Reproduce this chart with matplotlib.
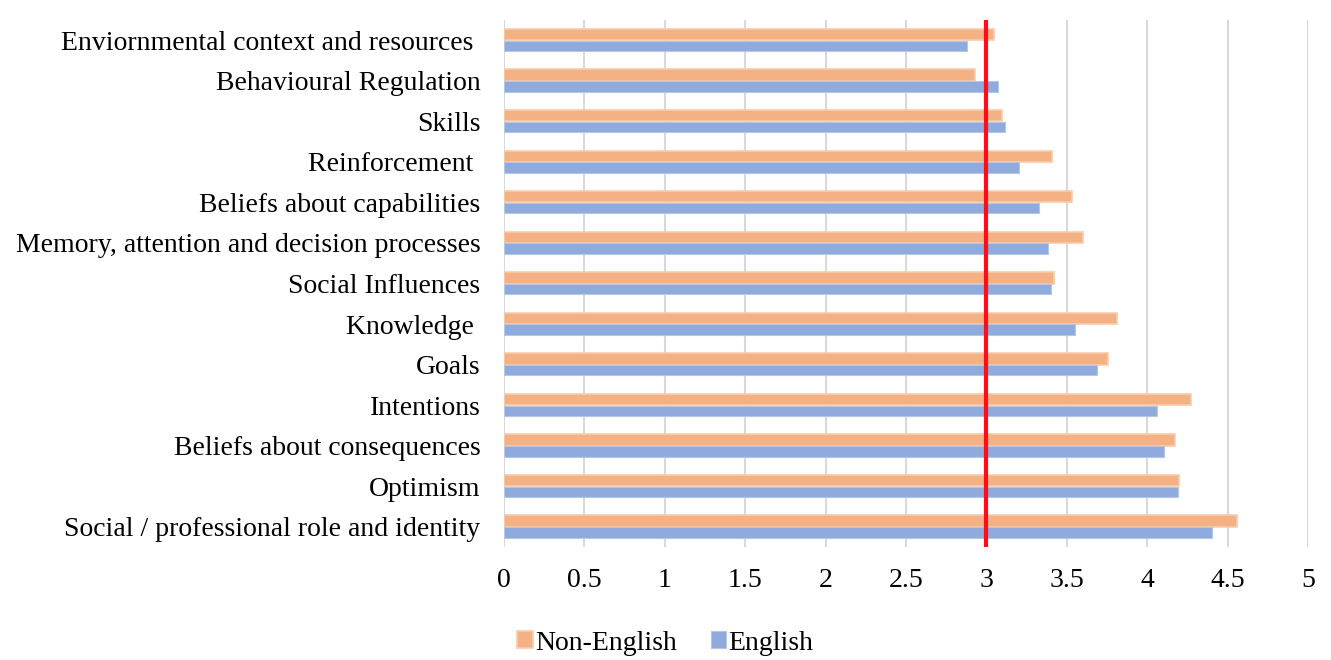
import matplotlib
matplotlib.use("Agg")
import matplotlib.pyplot as plt
import numpy as np

categories = [
    "Enviornmental context and resources ",
    "Behavioural Regulation",
    "Skills",
    "Reinforcement ",
    "Beliefs about capabilities",
    "Memory, attention and decision processes",
    "Social Influences",
    "Knowledge ",
    "Goals",
    "Intentions",
    "Beliefs about consequences",
    "Optimism",
    "Social / professional role and identity",
]
non_english = [3.05, 2.93, 3.10, 3.41, 3.53, 3.60, 3.42, 3.81, 3.755, 4.27, 4.17, 4.20, 4.56]
english = [2.88, 3.07, 3.115, 3.20, 3.33, 3.38, 3.40, 3.55, 3.69, 4.06, 4.105, 4.19, 4.40]
xticks = [0, 0.5, 1, 1.5, 2, 2.5, 3, 3.5, 4, 4.5, 5]
xtick_labels = ["0", "0.5", "1", "1.5", "2", "2.5", "3", "3.5", "4", "4.5", "5"]
threshold = 3

plt.rcParams['font.family'] = ['Liberation Serif', 'DejaVu Serif']
FS = 20

fig = plt.figure(figsize=(13.31, 6.6), dpi=100)
ax = fig.add_axes([504/1331, 113/660, 804/1331, 527/660])

n = len(categories)
y = np.arange(n)[::-1]
h = 0.28
ax.barh(y + h/2, non_english, height=h, color="#F4B183", edgecolor="#F8CBAD",
        linewidth=1.2, label="Non-English", zorder=3)
ax.barh(y - h/2, english, height=h * 0.92, color="#8FAADC", edgecolor="#B4C7E7",
        linewidth=0.8, label="English", zorder=3)

ax.axvline(threshold, color="#FF0D1A", linewidth=3.0, zorder=4)

ax.set_xlim(0, 5)
ax.set_ylim(-0.5, n - 0.5)
ax.set_xticks(xticks)
ax.set_xticklabels(xtick_labels)
ax.set_yticks(y)
ax.set_yticklabels(categories)
ax.tick_params(axis='both', length=0, labelsize=FS)
ax.tick_params(axis='x', pad=15)
ax.tick_params(axis='y', pad=17)
ax.xaxis.grid(True, color="#D9D9D9", linewidth=1.5, zorder=0)
ax.set_axisbelow(True)
for s in ax.spines.values():
    s.set_visible(False)

handles, labels = ax.get_legend_handles_labels()
fig.legend(handles, labels, loc="center", bbox_to_anchor=(0.5, 17/660), ncol=2,
           frameon=False, fontsize=FS, handlelength=0.55, handleheight=0.55,
           handletextpad=0.1, columnspacing=1.2)

fig.savefig("out.png", dpi=100)
